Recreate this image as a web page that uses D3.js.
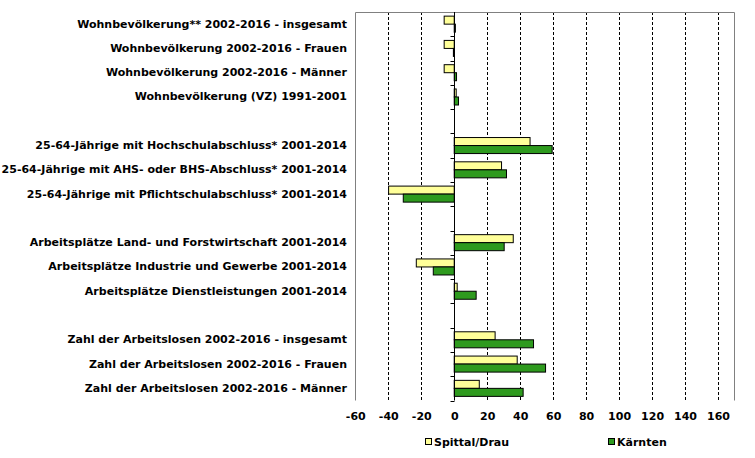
<!DOCTYPE html>
<html>
<head>
<meta charset="utf-8">
<script src="https://cdn.jsdelivr.net/npm/d3@7"></script>
<style>
  html, body { margin: 0; padding: 0; background: #fff; }
  svg { display: block; }
  text { font-family: "DejaVu Sans", Verdana, sans-serif; font-weight: bold; font-size: 11px; fill: #000; }
</style>
</head>
<body>
<svg id="chart" width="755" height="458"></svg>
<script>
const categories = [
  "Wohnbevölkerung** 2002-2016 - insgesamt",
  "Wohnbevölkerung 2002-2016 - Frauen",
  "Wohnbevölkerung 2002-2016 - Männer",
  "Wohnbevölkerung (VZ) 1991-2001",
  "",
  "25-64-Jährige mit Hochschulabschluss* 2001-2014",
  "25-64-Jährige mit AHS- oder BHS-Abschluss* 2001-2014",
  "25-64-Jährige mit Pflichtschulabschluss* 2001-2014",
  " ",
  "Arbeitsplätze Land- und Forstwirtschaft 2001-2014",
  "Arbeitsplätze Industrie und Gewerbe 2001-2014",
  "Arbeitsplätze Dienstleistungen 2001-2014",
  "  ",
  "Zahl der Arbeitslosen 2002-2016 - insgesamt",
  "Zahl der Arbeitslosen 2002-2016 - Frauen",
  "Zahl der Arbeitslosen 2002-2016 - Männer"
];
const spittal = [-6.1, -6.1, -6.1, 1.2, null, 46.0, 28.7, -39.8, null, 35.8, -23.0, 1.8, null, 24.8, 38.2, 15.2];
const kaernten = [0.7, -0.5, 1.4, 2.6, null, 59.4, 31.7, -30.9, null, 30.3, -12.7, 13.3, null, 48.1, 55.4, 41.8];
const seriesNames = ["Spittal/Drau", "Kärnten"];
const seriesColors = ["#ffff99", "#2e9a1e"];
const xTicks = [-60, -40, -20, 0, 20, 40, 60, 80, 100, 120, 140, 160];
const xDomain = [-60, 170];

const svg = d3.select("#chart");
const plot = { left: 355.3, right: 734.5, top: 12, bottom: 400.5 };

const x = d3.scaleLinear().domain(xDomain).range([plot.left, plot.right]);
const y = d3.scaleBand().domain(categories).range([plot.top, plot.bottom])
  .paddingInner(0.34).paddingOuter(0.17);
const step = y.step();

const g = svg.append("g");

// gridlines (dashed)
g.append("g").selectAll("line").data(xTicks.filter(t => t !== 0 && t !== -60)).join("line")
  .attr("x1", d => Math.round(x(d)) + 0.5).attr("x2", d => Math.round(x(d)) + 0.5)
  .attr("y1", plot.top).attr("y2", plot.bottom)
  .attr("stroke", "#000").attr("stroke-width", 1).attr("stroke-dasharray", "3,2");

// plot border (top, left, right) gray
const bx1 = Math.round(plot.left) + 0.5, bx2 = Math.round(plot.right) - 0.5, by = plot.top + 0.5;
g.append("path")
  .attr("d", `M${bx1},${plot.bottom}V${by}H${bx2}V${plot.bottom}`)
  .attr("fill", "none").attr("stroke", "#808080").attr("stroke-width", 1);

// bars
const rows = categories.map((c, i) => ({ c, v: [spittal[i], kaernten[i]] }));
const bh = y.bandwidth() / 2;
rows.forEach(r => {
  r.v.forEach((v, k) => {
    if (v === null) return;
    const x0 = x(Math.min(0, v)), x1 = x(Math.max(0, v));
    g.append("rect")
      .attr("x", x0).attr("y", y(r.c) + k * bh)
      .attr("width", Math.max(1, x1 - x0)).attr("height", bh)
      .attr("fill", seriesColors[k]).attr("stroke", "#000").attr("stroke-width", 1);
  });
});

// zero axis with category ticks
const zx = Math.round(x(0)) + 0.5;
g.append("line").attr("x1", zx).attr("x2", zx).attr("y1", plot.top).attr("y2", plot.bottom)
  .attr("stroke", "#000").attr("stroke-width", 1);
const tickYs = d3.range(categories.length + 1).map(i => plot.top + i * step);
g.append("g").selectAll("line").data(tickYs.slice(1)).join("line")
  .attr("x1", zx - 4).attr("x2", zx)
  .attr("y1", d => Math.round(d) + 0.5).attr("y2", d => Math.round(d) + 0.5)
  .attr("stroke", "#000");

// category labels
g.append("g").selectAll("text").data(categories.filter(c => c.trim() !== "")).join("text")
  .attr("x", 347).attr("y", d => y(d) + y.bandwidth() / 2)
  .attr("text-anchor", "end").attr("dominant-baseline", "central")
  .text(d => d);

// x tick labels via axis
const xAxis = d3.axisBottom(x).tickValues(xTicks).tickSize(0).tickPadding(0).tickFormat(d => String(d));
const ax = svg.append("g").attr("transform", `translate(0, ${plot.bottom})`).call(xAxis);
ax.select(".domain").remove();
ax.selectAll("text").attr("dy", null).attr("y", 16).attr("dominant-baseline", "central")
  .style("font-family", "'DejaVu Sans', Verdana, sans-serif").style("font-size", "11px").style("font-weight", "bold");

// legend
const legendX = [425, 608];
const leg = svg.append("g");
seriesNames.forEach((n, k) => {
  leg.append("rect").attr("x", legendX[k] + 0.5).attr("y", 438.5).attr("width", 6).attr("height", 6)
    .attr("fill", seriesColors[k]).attr("stroke", "#000");
  leg.append("text").attr("x", legendX[k] + 9).attr("y", 442).attr("dominant-baseline", "central").text(n);
});
</script>
</body>
</html>
